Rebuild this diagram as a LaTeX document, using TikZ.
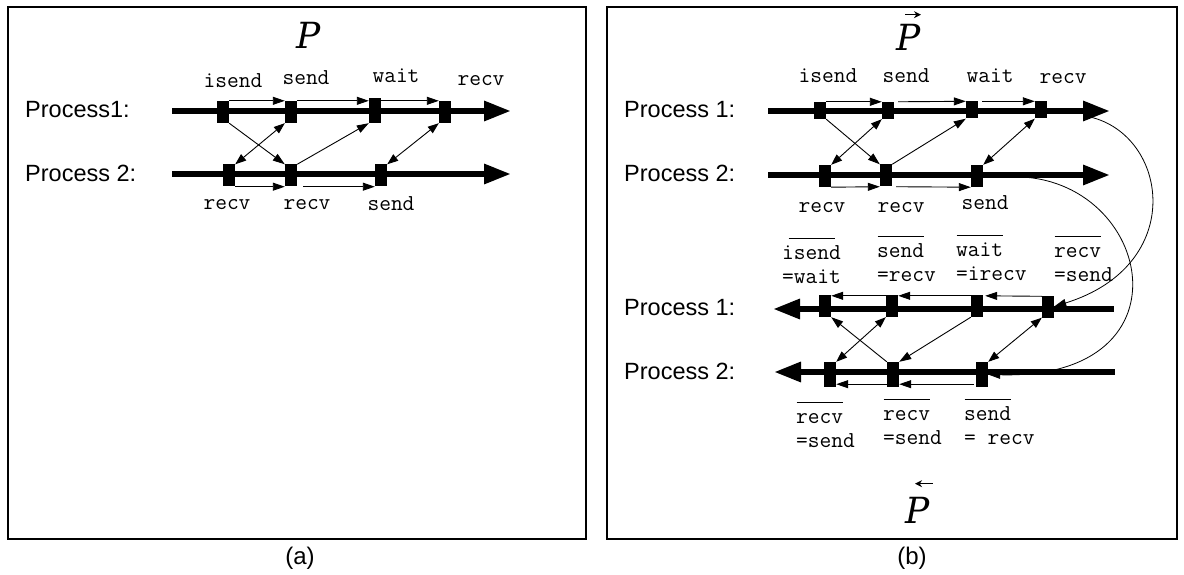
\documentclass[tikz,border=0pt]{standalone}
\usepackage{fontspec}
\setmainfont{Liberation Sans}
\newfontfamily\pfont{DejaVu Serif}
\usetikzlibrary{arrows.meta}
\newsavebox\ovlbox
\newcommand\ovl[1]{\sbox\ovlbox{#1}\makebox[\wd\ovlbox][c]{\raisebox{20pt}[0pt][0pt]{\rule{46pt}{1.3pt}}}\hspace{-\wd\ovlbox}\usebox\ovlbox}
\newcommand\ttlab{\fontsize{22.8}{24}\selectfont\ttfamily}
\newcommand\sflab{\fontsize{23.5}{28}\selectfont}
\tikzset{
  blk/.style={rectangle,fill=black,draw=none,minimum width=12pt,minimum height=22pt,inner sep=0pt},
  blks/.style={blk,minimum height=17pt},
  proc/.style={line width=6pt,-{Triangle[length=27pt,width=19pt]}},
  rproc/.style={line width=6pt,{Triangle[length=27pt,width=19pt]}-},
  sa/.style={line width=0.9pt,-{Triangle[length=12pt,width=8pt]}},
  da/.style={line width=0.9pt,{Triangle[length=11pt,width=8pt]}-{Triangle[length=11pt,width=8pt]}},
  cv/.style={line width=0.8pt,-{Triangle[length=12pt,width=8pt]}},
  lab/.style={font=\ttlab,inner sep=0pt,anchor=base},
  rlab/.style={font=\ttlab,inner sep=0pt,anchor=north west,align=left},
  plab/.style={font=\sflab,inner sep=0pt,anchor=west},
  ttl/.style={font=\fontsize{36}{38}\selectfont\pfont\itshape,inner sep=0pt},
  captxt/.style={font=\fontsize{24}{28}\selectfont,inner sep=0pt},
  frame/.style={line width=2pt},
  ovarr/.style={line width=1.3pt,-{Stealth[length=7pt,width=7pt]}},
  ovarl/.style={line width=1.3pt,{Stealth[length=7pt,width=7pt]}-}
}
\begin{document}
\begin{tikzpicture}[x=1pt,y=-1pt]
\useasboundingbox (0,0) rectangle (1184,575);
% frames
\draw[frame] (8,7) rectangle (586,539);
\draw[frame] (607,7) rectangle (1177,539);
\node[captxt] (capa) at (300,558) {(a)};
\node[captxt] (capb) at (912,558) {(b)};
% titles
\node[ttl] (ta) at (309,35) {P};
\node[ttl] (tb) at (909,37) {P};
\node[ttl] (tc) at (918,510) {P};
\draw[ovarr] ([shift={(-4,-9)}]tb.north) -- ([shift={(12,-9)}]tb.north);
\draw[ovarl] ([shift={(-3,-13)}]tc.north) -- ([shift={(15,-13)}]tc.north);

% ---------- panel (a) ----------
\node[plab] (pa1) at (25,110) {Process1:};
\node[plab] (pa2) at (25,173) {Process 2:};
\coordinate (a1s) at (172,111); \coordinate (a1e) at (511,111);
\coordinate (a2s) at (172,174); \coordinate (a2e) at (511,174);
\draw[proc] (a1s) -- (a1e);
\draw[proc] (a2s) -- (a2e);
\node[blk] (a11) at (223,112) {};
\node[blk] (a12) at (291,112) {};
\node[blk,minimum height=25pt] (a13) at (375,110.5) {};
\node[blk] (a14) at (445,112) {};
\node[blk] (a21) at (229,175.5) {};
\node[blk] (a22) at (291,175.5) {};
\node[blk] (a23) at (381,175.5) {};
\draw[sa] (a11.north east) -- (a12.north west);
\draw[sa] (a12.north east) -- (a13.west |- a12.north east);
\draw[sa] (a13.east |- a12.north east) -- (a14.north west);
\draw[sa] (a21.south east) -- (a22.south west);
\draw[sa,shorten <=6pt] (a22.south east) -- (a23.south west);
\draw[sa] (a11.south east) -- (a22.north west);
\draw[da] (a12.south west) -- (a21.north east);
\draw[sa] (a22.north east) -- (a13.south west);
\draw[da] (a14.south west) -- (a23.north east);
\node[lab] (la1) at (233,88) {isend};
\node[lab] (la2) at (306,85) {send};
\node[lab] (la3) at (396,83) {wait};
\node[lab] (la4) at (481,86) {recv};
\node[lab] (la5) at (227,210) {recv};
\node[lab] (la6) at (307,210) {recv};
\node[lab] (la7) at (391,211) {send};

% ---------- panel (b) forward ----------
\node[plab] (pb1) at (624,110) {Process 1:};
\node[plab] (pb2) at (624,173) {Process 2:};
\coordinate (b1s) at (768,111); \coordinate (b1e) at (1110,111);
\coordinate (b2s) at (768,175); \coordinate (b2e) at (1110,175);
\draw[proc] (b1s) -- (b1e);
\draw[proc] (b2s) -- (b2e);
\node[blks] (b11) at (820,110.5) {};
\node[blks] (b12) at (888,110.5) {};
\node[blks] (b13) at (972,110) {};
\node[blks] (b14) at (1041,110) {};
\node[blk] (b21) at (825,176) {};
\node[blk] (b22) at (886,175.5) {};
\node[blk] (b23) at (977,176) {};
\draw[sa] (b11.north east) -- (b12.north west);
\draw[sa,shorten <=4pt] (b12.north east) -- (b13.north west);
\draw[sa,shorten <=4pt] (b13.north east) -- (b14.north west);
\draw[sa] (b21.south east) -- (b22.south west);
\draw[sa,shorten <=4pt] (b22.south east) -- (b23.south west);
\draw[sa] (b11.south east) -- (b22.north west);
\draw[da] (b12.south west) -- (b21.north east);
\draw[sa] (b22.north east) -- (b13.south west);
\draw[da] (b14.south west) -- (b23.north east);
\node[lab] (lb1) at (828,83) {isend};
\node[lab] (lb2) at (906,83) {send};
\node[lab] (lb3) at (990,83) {wait};
\node[lab] (lb4) at (1063,84) {recv};
\node[lab] (lb5) at (822,212) {recv};
\node[lab] (lb6) at (901,212) {recv};
\node[lab] (lb7) at (985,210) {send};

% ---------- panel (b) reverse ----------
\node[plab] (pc1) at (624,308) {Process 1:};
\node[plab] (pc2) at (624,371) {Process 2:};
\coordinate (c1s) at (773,309); \coordinate (c1e) at (1114,309);
\coordinate (c2s) at (774,372); \coordinate (c2e) at (1115,372);
\draw[rproc] (c1s) -- (c1e);
\draw[rproc] (c2s) -- (c2e);
\node[blk] (c11) at (825,306) {};
\node[blk] (c12) at (892,306) {};
\node[blk] (c13) at (977,306) {};
\node[blk] (c14) at (1048,306.5) {};
\node[blk,minimum height=25pt] (c21) at (830,374.5) {};
\node[blk,minimum height=25pt] (c22) at (893,374.5) {};
\node[blk,minimum height=25pt] (c23) at (982,374.5) {};
\draw[sa] ([yshift=-1pt]c12.north west) -- ([yshift=-1pt]c11.north east);
\draw[sa] ([yshift=-1pt]c13.north west) -- ([yshift=-1pt]c12.north east);
\draw[sa,shorten >=2pt] ([yshift=-1pt]c14.north west) -- ([yshift=-1pt]c13.north east);
\draw[sa] ([yshift=3pt]c22.south west) -- ([yshift=3pt]c21.south east);
\draw[sa,shorten <=2pt] ([yshift=3pt]c23.south west) -- ([yshift=3pt]c22.south east);
\draw[sa] (c22.north west) -- (c11.south east);
\draw[da] (c12.south west) -- (c21.north east);
\draw[sa] (c13.south west) -- (c22.north east);
\draw[da] (c14.south west) -- (c23.north east);
\node[rlab] (r1) at (782,242.2) {\strut\ovl{isend}\\=wait};
\node[rlab] (r2) at (877,240.2) {\strut\ovl{send}\\=recv};
\node[rlab] (r3) at (956,239.2) {\strut\ovl{wait}\\=irecv};
\node[rlab] (r4) at (1054,240.2) {\strut\ovl{recv}\\=send};
\node[rlab] (r5) at (796,406.2) {\strut\ovl{recv}\\=send};
\node[rlab] (r6) at (883,403.2) {\strut\ovl{recv}\\=send};
\node[rlab] (r7) at (964,403.2) {\strut\ovl{send}\\= recv};

% curves from forward to reverse
\coordinate (k1) at (1090,117);
\coordinate (k2) at (1008,177);
\draw[cv] (k1) .. controls (1168,135) and (1188,265) .. (c14.east);
\draw[cv] (k2) .. controls (1150,170) and (1200,380) .. (c23.east);
\end{tikzpicture}
\end{document}
